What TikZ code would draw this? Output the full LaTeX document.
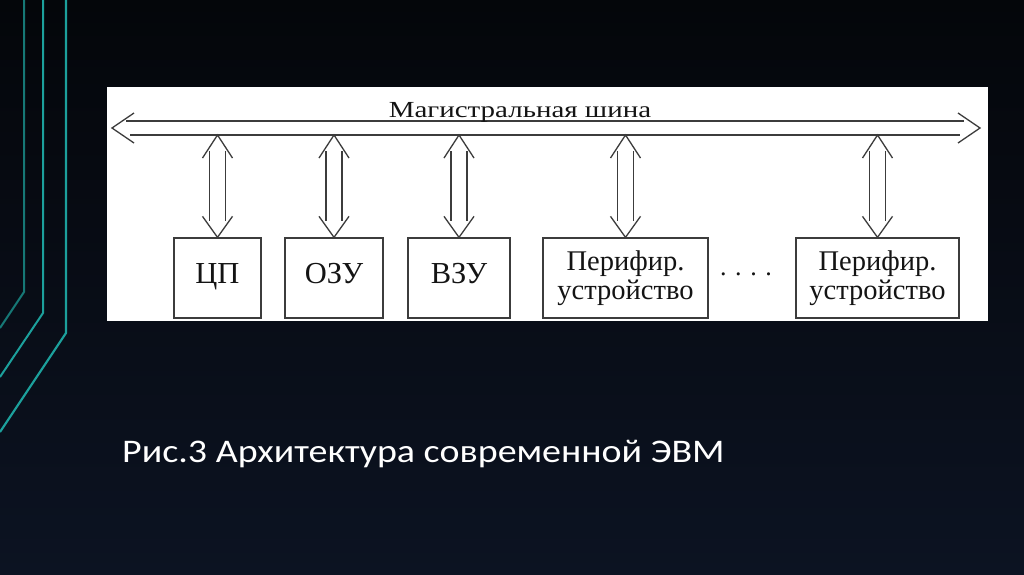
\documentclass[tikz,border=0pt]{standalone}
\usepackage{fontspec}
\setmainfont{Liberation Serif}
\newfontfamily\capfont{Carlito}
\usepackage{tikz}
\definecolor{bgtop}{RGB}{4,6,10}
\definecolor{bgbot}{RGB}{12,19,34}
\definecolor{tealdim}{RGB}{22,120,118}
\definecolor{tealcol}{RGB}{28,160,156}
\definecolor{linecol}{RGB}{60,60,60}
\definecolor{textcol}{RGB}{20,20,20}
\tikzset{
  unit/.style={draw=linecol, line width=1.3pt, fill=white, text=textcol,
    minimum height=80pt, inner sep=0pt, align=center,
    font=\fontsize{28.5}{29}\selectfont},
  oneline/.style={font=\fontsize{30.5}{30.5}\selectfont,
    text height=20pt, text depth=10pt},
  lnk/.style={draw=linecol, line width=1.3pt},
}

\begin{document}
\begin{tikzpicture}[x=1pt, y=-1pt]

  % Slide background.
  \shade[top color=bgtop, bottom color=bgbot] (0,0) rectangle (1024,574);
  \useasboundingbox (0,0) rectangle (1024,574);

  % Teal decoration on the left edge.
  \draw[tealdim, line width=2pt] (24,0) -- (24,292) -- (0,328);
  \draw[tealcol, line width=2pt] (43,0) -- (43,313) -- (0,377);
  \draw[tealcol, line width=2.2pt] (66,0) -- (66,333) -- (0,432);

  % White panel of the scheme.
  \fill[white] (107,87) rectangle (988,321);

  % Bus.
  \coordinate (busL) at (112,128);
  \coordinate (busR) at (980,128);
  \coordinate (busB) at (0,135);
  \draw[lnk] (126,121) -- (964,121);
  \draw[lnk] (130,135) -- (960,135);
  \draw[lnk] ([shift={(22,-15)}]busL) -- (busL) -- ([shift={(22,15)}]busL);
  \draw[lnk] ([shift={(-22,-15)}]busR) -- (busR) -- ([shift={(-22,15)}]busR);
  \node[anchor=base, text=textcol, font=\fontsize{23}{23}\selectfont]
    (buslabel) at (520,117) {\scalebox{1.26}[1]{Магистральная шина}};

  % Units.
  \node[unit, oneline, minimum width=87pt] (cp) at (217.5,278) {ЦП};
  \node[unit, oneline, minimum width=98pt] (ozu) at (334,278) {ОЗУ};
  \node[unit, oneline, minimum width=102pt] (vzu) at (459,278) {ВЗУ};
  \node[unit, minimum width=165pt] (perA) at (625.5,278) {Перифир.\\устройство};
  \node[unit, minimum width=163pt] (perB) at (877.5,278) {Перифир.\\устройство};
  \node[text=textcol, font=\fontsize{26}{26}\selectfont]
    (dots) at (746,274) {. . . .};

  % Double arrows between units and bus.
  \foreach \n in {cp,ozu,vzu,perA,perB} {
    \path (\n.north |- busB) coordinate (top);
    \draw[lnk] ([shift={(-15,23)}]top) -- (top) -- ([shift={(15,23)}]top);
    \draw[lnk] ([shift={(-8,16)}]top) -- ([shift={(-8,86)}]top);
    \draw[lnk] ([shift={(8,16)}]top) -- ([shift={(8,86)}]top);
    \draw[lnk] ([shift={(-15,-21)}]\n.north) -- (\n.north) -- ([shift={(15,-21)}]\n.north);
  }

  % Caption.
  \node[anchor=base west, text=white, inner sep=0pt,
    font=\capfont\fontsize{33}{33}\selectfont]
    (caption) at (122,462) {\scalebox{1.15}[1]{Рис.3 Архитектура современной ЭВМ}};

\end{tikzpicture}
\end{document}
